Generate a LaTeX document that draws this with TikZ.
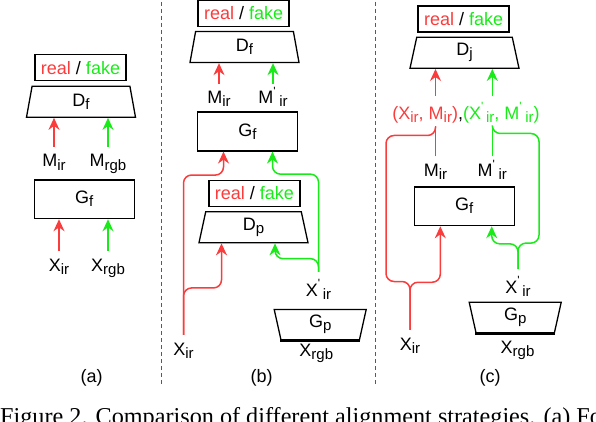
\documentclass[tikz,border=0pt]{standalone}
\usepackage{fontspec}
\setmainfont{Liberation Sans}
\newfontfamily\capfont{Liberation Serif}
\usetikzlibrary{shapes.geometric,calc,arrows.meta,positioning}

\definecolor{cred}{RGB}{250,60,60}
\definecolor{cgreen}{RGB}{25,235,25}
\definecolor{cdash}{RGB}{90,90,90}

\newcommand{\lowsub}[1]{\raisebox{-3pt}{\fontsize{15}{15}\selectfont #1}}
\newcommand{\tck}[1][6pt]{\makebox[#1][l]{\raisebox{8.5pt}{\fontsize{12}{12}\selectfont\textquotesingle}}}
\newcommand{\rf}{{\color{cred}real} / {\color{cgreen}fake}}

\begin{document}
\begin{tikzpicture}[x=1pt,y=-1pt,font=\fontsize{18}{21}\selectfont]
\tikzset{>={Stealth[length=12pt,width=11pt]}}

\tikzstyle{judge}=[draw, line width=1.6pt, minimum width=91pt, minimum height=26pt, inner sep=0pt]
\tikzstyle{gen}=[draw, line width=1.6pt, minimum width=100pt, minimum height=38.5pt, inner sep=0pt]
\tikzstyle{disc}=[draw, trapezium, trapezium left angle=70, trapezium right angle=70, trapezium stretches body=true, minimum width=109pt, minimum height=31pt, inner sep=0pt, line width=1.3pt]
\tikzstyle{lbl}=[anchor=base, inner xsep=1pt, inner ysep=7pt, text height=13pt, text depth=4pt]
\tikzstyle{rl}=[cred, line width=1.5pt, rounded corners=8pt]
\tikzstyle{gl}=[cgreen, line width=1.5pt, rounded corners=8pt]
\tikzstyle{sep}=[cdash, line width=1pt, dash pattern=on 4pt off 3pt]

\useasboundingbox (0,0) rectangle (596,422);

% panel (a)
\node(rfa)[judge] at (80.5,67.7) {\rf};
\node(dfa)[disc] at (81,101.7) {D\lowsub{f}};
\node(mira)[lbl] at (54,167) {M\lowsub{ir}};
\node(mrgba)[lbl] at (108,167) {M\lowsub{rgb}};
\node(gfa)[gen] at (84.3,199.2) {G\lowsub{f}};
\node(xira)[lbl] at (59,271) {X\lowsub{ir}};
\node(xrgba)[lbl] at (108,271) {X\lowsub{rgb}};
\node(capa)[lbl] at (91.7,382) {(a)};

\draw[rl,->] (mira) -- (mira |- dfa.south);
\draw[gl,->] (mrgba) -- (mrgba |- dfa.south);
\draw[rl,->] (xira) -- (xira |- gfa.south);
\draw[gl,->] (xrgba) -- (xrgba |- gfa.south);

% panel (b)
\node(rfb)[judge] at (243.7,13.5) {\rf};
\node(dfb)[disc] at (244.5,47) {D\lowsub{f}};
\node(mirb)[lbl] at (219,104) {M\lowsub{ir}};
\node(mpb)[lbl] at (273,104) {M\tck\lowsub{ir}};
\node(gfb)[gen] at (247.5,131.5) {G\lowsub{f}};
\node(rfb2)[judge] at (254.3,193.5) {\rf};
\node(dpb)[disc] at (253.5,227.2) {D\lowsub{p}};
\node(xpb)[lbl, text height=17pt] at (318.5,296) {X\tck[5pt]\lowsub{ir}};
\node(gpb)[disc, shape border rotate=180, minimum width=92pt, minimum height=30.5pt] at (320.2,324.7) {G\lowsub{p}};
\node(xirb)[lbl] at (183.5,355) {X\lowsub{ir}};
\node(xrgbb)[lbl] at (316.3,356.5) {X\lowsub{rgb}};
\node(capb)[lbl] at (261.7,382) {(b)};

\draw[line width=2.6pt] (gpb.top left corner) -- (gpb.top right corner);
\draw[rl,->] (mirb) -- (mirb |- dfb.south);
\draw[gl,->] (mpb) -- (mpb |- dfb.south);
\draw[rl,->] (xirb.north) |- ($(gfb.south)+(-24,23.5)$) -- ($(gfb.south)+(-24,0)$);
\draw[rl,->] (xirb.north) |- ($(dpb.south)+(-32,44.6)$) -- ($(dpb.south)+(-32,0)$);
\draw[gl,->] (xpb.north) |- ($(gfb.south)+(25,22.6)$) -- ($(gfb.south)+(25,0)$);
\draw[gl,->] (xpb.north) |- ($(dpb.south)+(21.5,15.3)$) -- ($(dpb.south)+(21.5,0)$);

% panel (c)
\node(rfc)[judge] at (463.7,19) {\rf};
\node(djc)[disc] at (464.5,52.8) {D\lowsub{j}};
\node(tup)[anchor=base, inner xsep=0pt, inner ysep=2pt, text height=13pt, text depth=5pt] at (466,119.3) {\color{cred}(X\lowsub{ir}, M\lowsub{ir})\color{black},\color{cgreen}(X\tck[5pt]\lowsub{ir}, M\tck\lowsub{ir})};
\node(mirc)[lbl] at (435.5,176.7) {M\lowsub{ir}};
\node(mpc)[lbl] at (492.3,176.7) {M\tck\lowsub{ir}};
\node(gfc)[gen] at (464.3,206.2) {G\lowsub{f}};
\node(xpc)[lbl, text height=17pt] at (518,293.3) {X\tck[5pt]\lowsub{ir}};
\node(gpc)[disc, shape border rotate=180, minimum width=92pt, minimum height=30.5pt] at (515.2,317.5) {G\lowsub{p}};
\node(xirc)[lbl] at (410,350) {X\lowsub{ir}};
\node(xrgbc)[lbl] at (517.5,353) {X\lowsub{rgb}};
\node(capc)[lbl] at (490,382) {(c)};

\draw[line width=2.6pt] (gpc.top left corner) -- (gpc.top right corner);
\draw[rl,->,shorten <=8pt] (mirc |- tup.north) -- (mirc |- djc.south);
\draw[gl,->,shorten <=8pt] (mpc |- tup.north) -- (mpc |- djc.south);
\draw[rl] (mirc) -- (mirc |- tup.south);
\draw[gl] (mpc) -- (mpc |- tup.south);
\draw[rl] (mirc |- tup.south) -- ++(0,9) -| ($(xirc.north)+(-24,-48.3)$) -| (xirc.north);
\draw[rl,->] (xirc.north) |- ($(gfc.south)+(-24,56)$) -- ($(gfc.south)+(-24,0)$);
\draw[gl] (mpc |- tup.south) -- ++(0,7) -| ($(xpc.north)+(21,-26)$) -| (xpc.north);
\draw[gl,->] (xpc.north) |- ($(gfc.south)+(27.4,17.6)$) -- ($(gfc.south)+(27.4,0)$);

% separators and caption
\draw[sep] (161,2) -- (161,385);
\draw[sep] (375,2) -- (375,385);
\node(cap)[anchor=base west, inner sep=0pt, font=\capfont\fontsize{24.2}{26}\selectfont] at (0,424) {Figure 2. Comparison of different alignment strategies. (a) Fo};
\end{tikzpicture}
\end{document}
